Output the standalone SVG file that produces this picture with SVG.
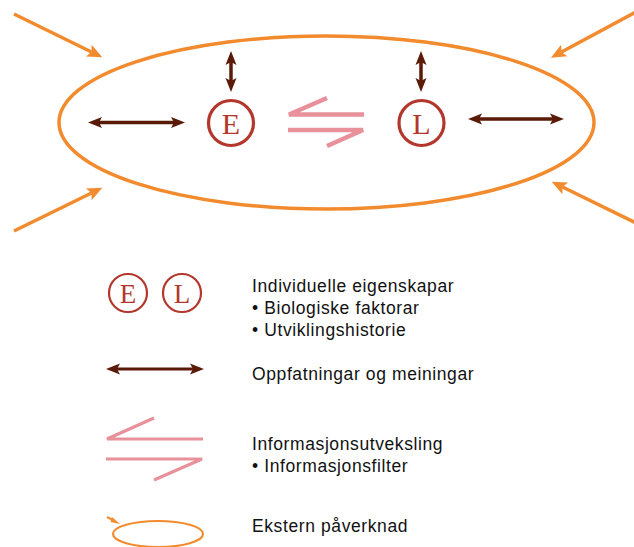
<svg xmlns="http://www.w3.org/2000/svg" width="634" height="547" viewBox="0 0 634 547">
  <defs>
    <style>
      .ext { fill: none; stroke: #F28A2E; stroke-width: 3.5; }
      .ext-arrow { stroke: #F28A2E; stroke-width: 3.5; fill: none; marker-end: url(#headOrange); }
      .view { stroke: #5A1A08; stroke-width: 3.5; fill: none; marker-start: url(#headBrown); marker-end: url(#headBrown); }
      .view-sm { stroke: #5A1A08; stroke-width: 3; fill: none; marker-start: url(#headBrown); marker-end: url(#headBrown); }
      .person { fill: #fff; stroke: #B3372C; stroke-width: 3.2; }
      .person-sm { fill: #fff; stroke: #B3372C; stroke-width: 2.2; }
      .letter { font-family: "Liberation Serif", "DejaVu Serif", serif; fill: #B3372C; text-anchor: middle; }
      .info { stroke: #E8919A; stroke-width: 4.5; fill: none; stroke-linejoin: miter; }
      .info-sm { stroke: #E8919A; stroke-width: 3.2; fill: none; stroke-linejoin: miter; }
      .label { font-family: "Liberation Sans", Arial, sans-serif; font-size: 17.5px; letter-spacing: 0.6px; fill: #111; }
    </style>
    <!-- arrowheads sit beyond the line end so the stroke never shows past the tip -->
    <marker id="headBrown" markerUnits="userSpaceOnUse" viewBox="-4 -6 16 12" refX="0" refY="0" markerWidth="16" markerHeight="12" orient="auto-start-reverse">
      <path d="M11,0 L-3,-5.5 L0,0 L-3,5.5 Z" fill="#5A1A08"/>
    </marker>
    <marker id="headOrange" markerUnits="userSpaceOnUse" viewBox="-4 -7 18 14" refX="0" refY="0" markerWidth="18" markerHeight="14" orient="auto">
      <path d="M12,0 L-3,-6.5 L0,0 L-3,6.5 Z" fill="#F28A2E"/>
    </marker>
  </defs>

  <!-- external influence: the surrounding environment -->
  <g id="environment">
    <ellipse class="ext" cx="326.5" cy="122.5" rx="267.5" ry="86.5"/>
  </g>

  <g id="person-E">
    <circle class="person" cx="231" cy="123" r="22.5"/>
    <text class="letter" x="231" y="133.5" font-size="30">E</text>
  </g>

  <g id="person-L">
    <circle class="person" cx="421.5" cy="123" r="22.5"/>
    <text class="letter" x="421.5" y="133.5" font-size="30">L</text>
  </g>

  <g id="connectors">
    <!-- incoming external influences -->
    <line class="ext-arrow" x1="14" y1="14" x2="91.5" y2="52"/>
    <line class="ext-arrow" x1="14" y1="231" x2="91.5" y2="193"/>
    <line class="ext-arrow" x1="636" y1="12" x2="561.5" y2="52"/>
    <line class="ext-arrow" x1="636" y1="223" x2="562.5" y2="187"/>

    <!-- views and opinions -->
    <line class="view" x1="99" y1="122.5" x2="174" y2="122.5"/>
    <line class="view" x1="479" y1="119" x2="553" y2="119"/>
    <line class="view" x1="231" y1="62" x2="231" y2="81"/>
    <line class="view" x1="421" y1="62" x2="421" y2="81"/>

    <!-- information exchange between E and L -->
    <path class="info" d="M327,98 L289,114.5 L364,114.5"/>
    <path class="info" d="M288,130 L363,130 L327,146"/>
  </g>

  <!-- key -->
  <g id="legend-persons">
    <circle class="person-sm" cx="128" cy="293" r="19"/>
    <text class="letter" x="128" y="302.5" font-size="27">E</text>
    <circle class="person-sm" cx="182" cy="293" r="19"/>
    <text class="letter" x="182" y="302.5" font-size="27">L</text>
    <text class="label" x="252" y="292">Individuelle eigenskapar</text>
    <text class="label" x="252" y="314">• Biologiske faktorar</text>
    <text class="label" x="252" y="336">• Utviklingshistorie</text>
  </g>

  <g id="legend-views">
    <line class="view-sm" x1="117" y1="369" x2="193" y2="369"/>
    <text class="label" x="252" y="380">Oppfatningar og meiningar</text>
  </g>

  <g id="legend-exchange">
    <path class="info-sm" d="M154,418 L107,439 L203,439"/>
    <path class="info-sm" d="M106,459 L202,459 L154,480"/>
    <text class="label" x="252" y="450">Informasjonsutveksling</text>
    <text class="label" x="252" y="472">• Informasjonsfilter</text>
  </g>

  <g id="legend-external">
    <ellipse fill="none" stroke="#F28A2E" stroke-width="2.2" cx="158" cy="534" rx="45" ry="13"/>
    <line stroke="#F28A2E" stroke-width="2" x1="107" y1="517" x2="113" y2="520"/>
    <path d="M120,524 L112,517 L110.5,522 Z" fill="#F28A2E"/>
    <text class="label" x="252" y="532">Ekstern påverknad</text>
  </g>
</svg>
